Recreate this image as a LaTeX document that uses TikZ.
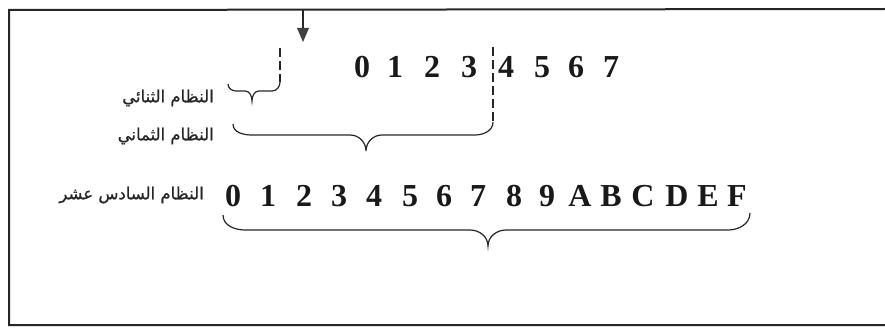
\documentclass[tikz,border=0pt]{standalone}
\usepackage{fontspec}
\setmainfont{Liberation Serif}
\newfontfamily\arabicfont[Script=Arabic,FakeBold=0.8]{DejaVu Sans}
\TeXXeTstate=1
\begin{document}
\begin{tikzpicture}[x=1pt,y=-1pt,
  frame/.style={line width=2pt,black!85},
  brace/.style={line width=1.2pt,black!85},
  dashline/.style={line width=1.3pt,black!85,dash pattern=on 9pt off 4pt},
  dig/.style={inner sep=0pt,font=\fontsize{32}{32}\selectfont\bfseries,text=black!90},
  lab/.style={inner sep=0pt,anchor=east,font=\arabicfont\fontsize{16.5}{18}\selectfont,text=black!85}]
\useasboundingbox (0,0) rectangle (885,329);
% frame
\coordinate (tl) at (9,10);
\coordinate (tr) at (885,9);
\coordinate (bl) at (9,325);
\coordinate (br) at (885,325);
\draw[frame] (tr) -- (tl) -- (bl) -- (br);
% arrow
\coordinate (a0) at (303,10);
\coordinate (a1) at (303,30);
\draw[line width=1.2pt,black!85] (a0) -- (a1);
\fill[black!75] (297,28) -- (309,28) -- (303,42) -- cycle;
% top row digits
\foreach \d/\x in {0/362,1/395,2/432,3/469,4/506,5/542,6/576,7/611}
  \node[dig] (t\d) at (\x,67) {\d};
% bottom row digits
\foreach \d/\x in {0/233,1/268,2/304,3/339,4/374,5/410,6/444,7/478,8/514,9/547,A/580,B/611,C/643,D/677,E/708,F/737}
  \node[dig] (b\d) at (\x,196) {\d};
% labels
\node[lab] (l1) at (214,98) {\beginR النظام الثنائي\endR};
\node[lab] (l2) at (214,136) {\beginR النظام الثماني\endR};
\node[lab] (l3) at (204,195) {\beginR النظام السادس عشر\endR};
% small brace
\coordinate (s0) at (280,48);
\coordinate (s1) at (280,82);
\coordinate (sl) at (228,84);
\coordinate (st) at (252,101);
\draw[dashline] (s0) -- (s1);
\draw[brace] (sl) to[out=-90,in=180] (236,91) -- (245,91) to[out=0,in=90] (st)
  to[out=90,in=180] (259,91) -- (272,91) to[out=0,in=-90] (s1);
% octal brace
\coordinate (o0) at (493,47);
\coordinate (o1) at (493,122);
\coordinate (ol) at (233,124);
\coordinate (ot) at (366,151);
\draw[dashline] (o0) -- (o1);
\draw[brace] (ol) to[out=-90,in=180] (252,135) -- (350,135) to[out=0,in=90] (ot)
  to[out=90,in=180] (382,135) -- (475,135) to[out=0,in=-90] (o1);
% hex brace
\coordinate (hl) at (223,215);
\coordinate (ht) at (488,246);
\coordinate (hr) at (750,213);
\draw[brace] (hl) to[out=-90,in=180] (245,230) -- (470,230) to[out=0,in=90] (ht)
  to[out=90,in=180] (506,230) -- (728,230) to[out=0,in=-90] (hr);
\end{tikzpicture}
\end{document}
